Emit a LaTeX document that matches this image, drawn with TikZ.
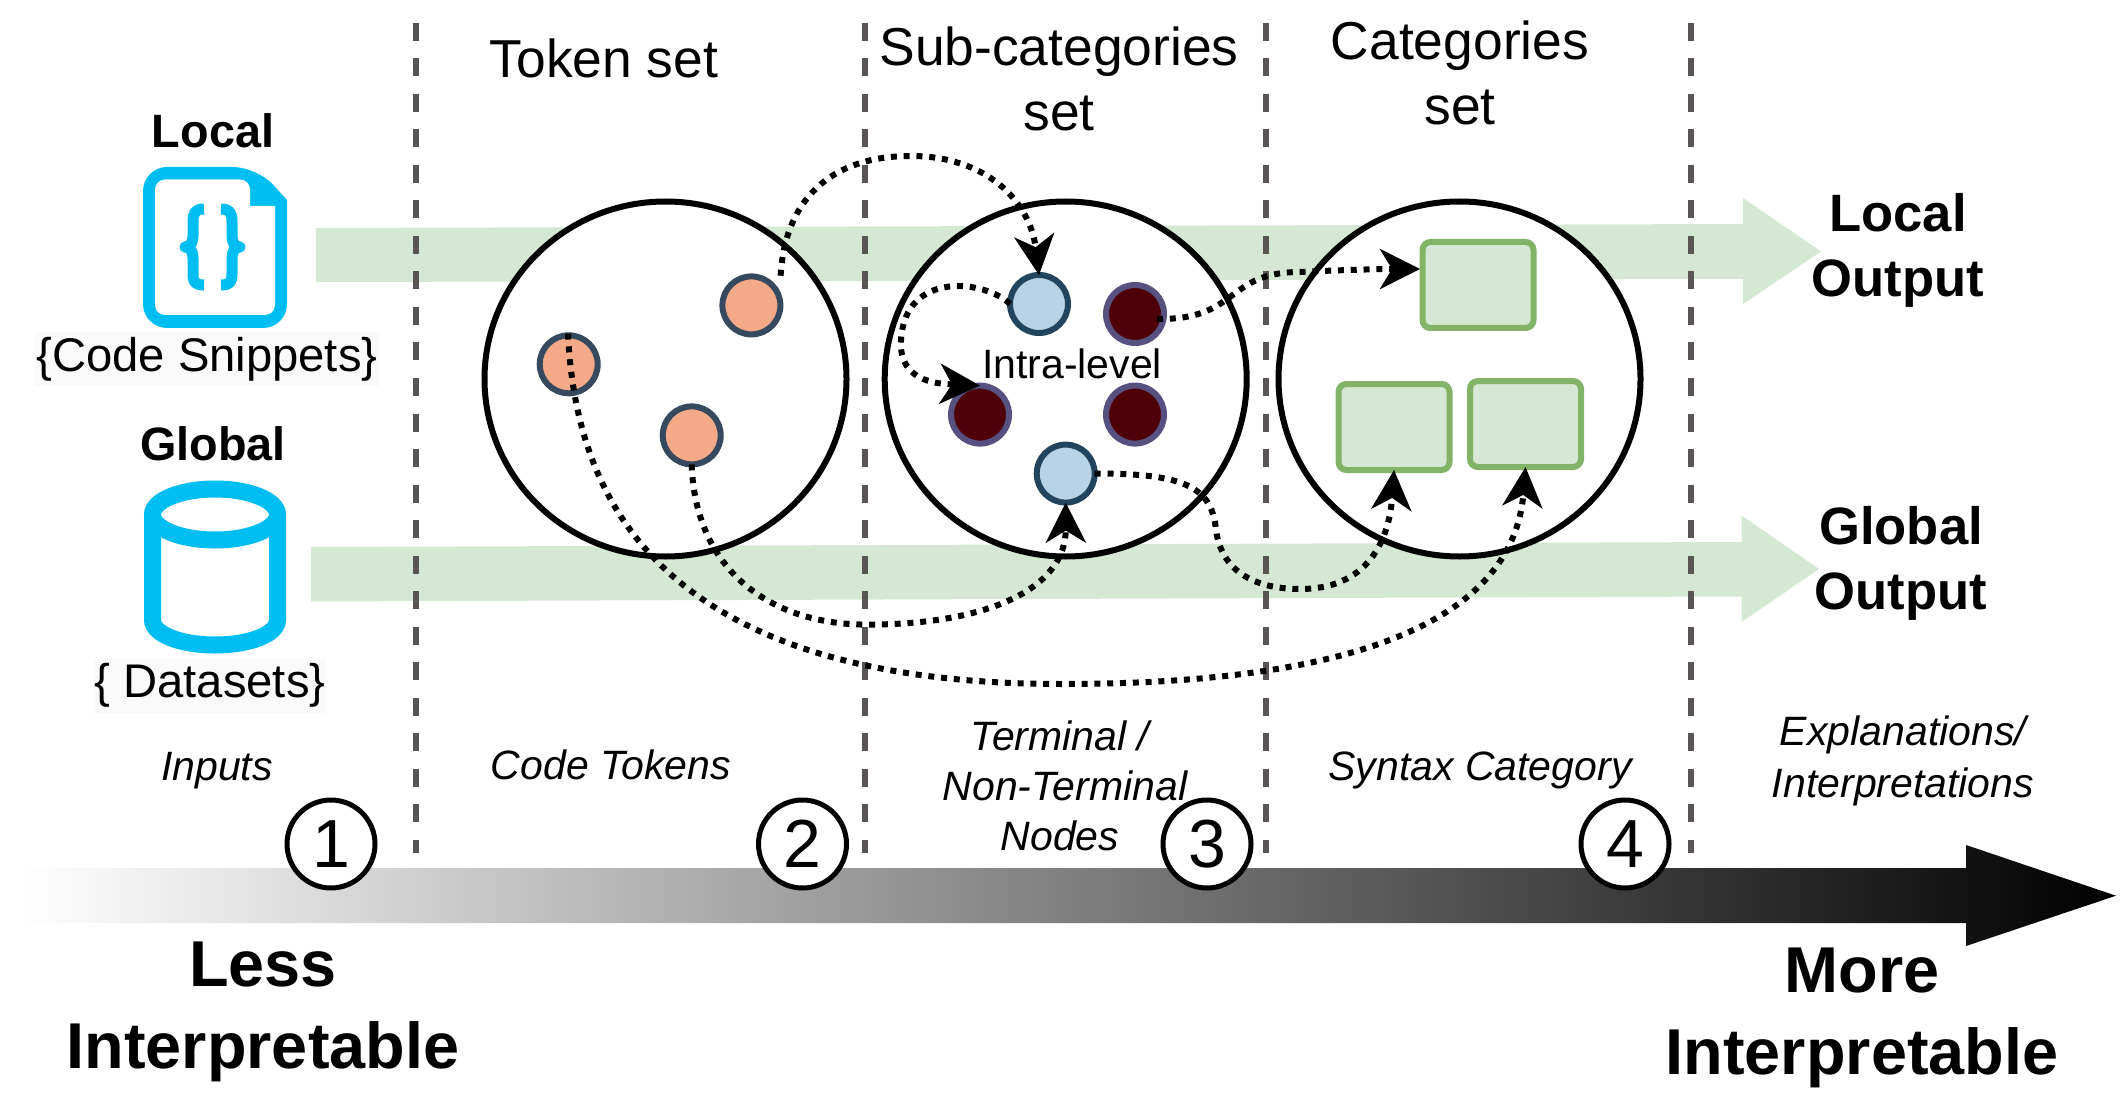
\documentclass[tikz,border=0pt]{standalone}
\usepackage{fontspec}
\setmainfont{Liberation Sans}
\usetikzlibrary{arrows.meta,shapes.geometric}
\definecolor{bandgreen}{HTML}{D5E8D4}
\definecolor{boxgreen}{HTML}{82B366}
\definecolor{iconblue}{HTML}{00BEF2}
\definecolor{sepgray}{HTML}{595555}
\definecolor{orangefill}{HTML}{F4A988}
\definecolor{orangeline}{HTML}{36495E}
\definecolor{bluefill}{HTML}{B8D3E6}
\definecolor{blueline}{HTML}{23445D}
\definecolor{darkfill}{HTML}{4D0008}
\definecolor{darkline}{HTML}{56517E}
\definecolor{labelbg}{HTML}{FAFAFA}
\tikzset{
  bigcircle/.style={draw=black,fill=white,line width=3pt,ellipse,minimum width=181pt,minimum height=177.5pt,inner sep=0pt,outer sep=0pt},
  tok/.style={circle,line width=3pt,minimum size=29pt,inner sep=0pt,outer sep=0pt,draw=#1line,fill=#1fill},
  catbox/.style={draw=boxgreen,fill=bandgreen,line width=3pt,rounded corners=4pt,minimum width=55.5pt,minimum height=43pt,inner sep=0pt,outer sep=0pt},
  numcircle/.style={circle,draw=black,fill=white,line width=2.5pt,minimum size=44pt,inner sep=0pt,font=\fontsize{34}{34}\selectfont},
  flow/.style={line width=3pt,dash pattern=on 3pt off 3.4pt,-{Stealth[length=20pt,width=20pt,inset=6pt]}},
  sep/.style={draw=sepgray,line width=3pt,dash pattern=on 9pt off 8.75pt},
  band/.style={fill=bandgreen,draw=none},
  icon/.style={draw=iconblue,line width=8.5pt},
  brace/.style={draw=iconblue,line width=5.5pt,line join=round},
  settitle/.style={align=center,inner sep=0pt,font=\fontsize{26.7}{32.5}\selectfont},
  boldlabel/.style={align=center,inner sep=0pt,font=\fontsize{26.3}{32.5}\bfseries\selectfont},
  biglabel/.style={align=center,inner sep=0pt,font=\fontsize{32.4}{41}\bfseries\selectfont},
  smalllabel/.style={inner sep=0pt,font=\fontsize{23.4}{23.4}\bfseries\selectfont},
  inputlabel/.style={inner sep=0pt,fill=labelbg,minimum height=27pt,font=\fontsize{23.6}{23.6}\selectfont},
  stagelabel/.style={align=center,inner sep=0pt,font=\fontsize{20.5}{26}\itshape\selectfont},
}
\begin{document}
\begin{tikzpicture}[x=0.5pt,y=-0.5pt]
\useasboundingbox (0,0) rectangle (2123,1096);
% green bands
\path[band] (316,228) -- (1743,224) -- (1743,198) -- (1821,251.5) -- (1743,304) -- (1743,279) -- (316,282) -- cycle;
\path[band] (311,547) -- (1741.5,542) -- (1741.5,515.5) -- (1819,569) -- (1741.5,622) -- (1741.5,596.5) -- (311,601.5) -- cycle;
% separators
\coordinate (s1a) at (416,23); \coordinate (s1b) at (416,853);
\coordinate (s2a) at (865,23); \coordinate (s2b) at (865,853);
\coordinate (s3a) at (1266,23); \coordinate (s3b) at (1266,853);
\coordinate (s4a) at (1691,23); \coordinate (s4b) at (1691,853);
\draw[sep] (s1a) -- (s1b);
\draw[sep] (s2a) -- (s2b);
\draw[sep] (s3a) -- (s3b);
\draw[sep] (s4a) -- (s4b);
% document icon
\fill[iconblue,rounded corners=12pt] (143,250) -- (143,167) -- (257,167) [sharp corners] -- (287,200) [rounded corners=12pt] -- (287,328) -- (143,328) -- cycle;
\fill[white,rounded corners=5pt] (155,250) -- (155,179.5) -- (250,179.5) [sharp corners] -- (250,206) -- (275,206) [rounded corners=5pt] -- (275,315) -- (155,315) -- cycle;
\draw[brace] (204,209) .. controls (195,209) and (193,213) .. (193,222) -- (193,236) .. controls (193,243) and (190,247) .. (185,247) .. controls (190,247) and (193,251) .. (193,258) -- (193,274) .. controls (193,282) and (195,285) .. (204,285);
\draw[brace] (221,209) .. controls (230,209) and (232,213) .. (232,222) -- (232,236) .. controls (232,243) and (235,247) .. (240,247) .. controls (235,247) and (232,251) .. (232,258) -- (232,274) .. controls (232,282) and (230,285) .. (221,285);
% cylinder icon
\draw[icon,fill=white] (152.5,514.5) -- (152.5,620) .. controls (152.5,634) and (180,645) .. (215,645) .. controls (250,645) and (277.5,634) .. (277.5,620) -- (277.5,514.5);
\draw[icon,fill=white] (215,514.5) ellipse [x radius=62.5,y radius=25.5];
% big circles
\node[bigcircle] (c1) at (665.5,379) {};
\node[bigcircle] (c2) at (1065.7,379) {};
\node[bigcircle] (c3) at (1459.5,379) {};
% tokens
\node[tok=orange] (o1) at (751.4,305.4) {};
\node[tok=orange] (o2) at (568.7,364.3) {};
\node[tok=orange] (o3) at (691.7,435.4) {};
\node[tok=blue] (b1) at (1039,304) {};
\node[tok=dark] (d1) at (1135,314) {};
\node[tok=dark] (d2) at (980,414.6) {};
\node[tok=dark] (d3) at (1135,414.6) {};
\node[tok=blue] (b2) at (1065.7,473.6) {};
% category boxes
\node[catbox] (k1) at (1478,285) {};
\node[catbox] (k2) at (1394,427) {};
\node[catbox] (k3) at (1525.5,424) {};
% connector free ends
\coordinate (a1) at (780.6,275.7);
\coordinate (a2) at (568,333.6);
\coordinate (a3) at (1157,319);
\coordinate (a4) at (1420,269);
% connectors
\draw[flow] (a1) .. controls (785,200) and (830,156) .. (911,156) .. controls (985,156) and (1030,200) .. (b1.north);
\draw[flow] (a2) .. controls (575,480) and (640,684) .. (1062,684) .. controls (1400,684) and (1515,600) .. (k3.south);
\draw[flow] (o3.south) .. controls (695,570) and (770,624.6) .. (867,624.6) .. controls (985,624.6) and (1066,590) .. (b2.south);
\draw[flow] (b1.west) .. controls (985,280) and (905,270) .. (901,340) .. controls (898,385) and (945,384) .. (d2.north);
\draw[flow] (a3) .. controls (1240,320) and (1225,272) .. (1300,272) .. controls (1340,270) and (1380,269) .. (a4);
\draw[flow] (b2.east) .. controls (1190,473) and (1212,490) .. (1216,530) .. controls (1222,575) and (1260,589) .. (1300,589) .. controls (1375,589) and (1390,530) .. (k2.south);
% gradient arrow
\shade[left color=white,right color=black] (22,868) -- (1966,868) -- (1966,845) -- (2116,895.7) -- (1966,946) -- (1966,923) -- (22,923) -- cycle;
% numbers
\node[numcircle] (n1) at (331,844) {1};
\node[numcircle] (n2) at (802.5,844) {2};
\node[numcircle] (n3) at (1207,844) {3};
\node[numcircle] (n4) at (1625,844) {4};
% labels
\node[smalllabel] (tlocal) at (213,131) {Local};
\node[smalllabel] (tglobal) at (213,444) {Global};
\node[inputlabel,minimum width=172pt] (tcode) at (207,359) {\{Code Snippets\}};
\node[inputlabel,minimum width=116pt] (tdata) at (210,685.5) {\{ Datasets\}};
\node[settitle] (ttoken) at (604,58) {Token set};
\node[settitle] (tsub) at (1059,79) {Sub-categories\\set};
\node[settitle] (tcat) at (1460,73) {Categories\\set};
\node[boldlabel] (tlo) at (1898,250) {Local\\Output};
\node[boldlabel] (tgo) at (1901,563) {Global\\Output};
\node[biglabel] (tless) at (263,1012) {Less\\Interpretable};
\node[biglabel] (tmore) at (1862,1018) {More\\Interpretable};
\node[inner sep=0pt,font=\fontsize{20.5}{20.5}\selectfont] (tintra) at (1072,364) {Intra-level};
\node[stagelabel] (tin) at (217,771) {Inputs};
\node[stagelabel] (tct) at (611,765) {Code Tokens};
\node[stagelabel,font=\fontsize{20.5}{25}\itshape\selectfont] (tterm) at (1060,786) {Terminal /\\\hspace*{5pt}Non-Terminal\\Nodes};
\node[stagelabel] (tsyn) at (1480,770) {Syntax Category};
\node[stagelabel] (texp) at (1903,761) {Explanations/\\Interpretations};
\end{tikzpicture}
\end{document}
